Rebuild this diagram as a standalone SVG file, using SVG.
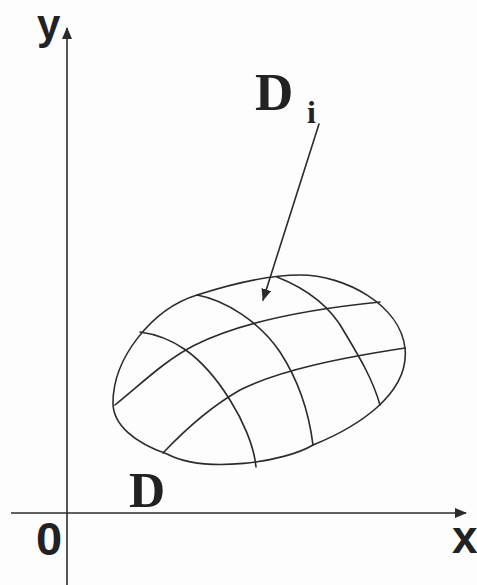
<svg xmlns="http://www.w3.org/2000/svg" width="477" height="585" viewBox="0 0 477 585">
  <style>
    .ln { fill: none; stroke: #2b2b2b; stroke-width: 1.6; stroke-linecap: round; stroke-linejoin: round; }
    .ax { fill: none; stroke: #2b2b2b; stroke-width: 1.6; }
    .sans { font-family: "Liberation Sans", Arial, sans-serif; font-weight: bold; fill: #222; }
    .serif { font-family: "Liberation Serif", "Times New Roman", serif; font-weight: bold; fill: #222; }
  </style>
  <defs>
    <marker id="ah" viewBox="0 0 12 10" refX="11" refY="5" markerWidth="12" markerHeight="10" markerUnits="userSpaceOnUse" orient="auto">
      <path d="M0,0 L12,5 L0,10 Z" fill="#2b2b2b"/>
    </marker>
  </defs>
  <rect width="477" height="585" fill="#fdfdfd"/>

  <g id="axes">
    <line class="ax" x1="67" y1="585" x2="67" y2="28" marker-end="url(#ah)"/>
    <line class="ax" x1="11" y1="513" x2="466" y2="513" marker-end="url(#ah)"/>
    <text class="sans" x="37" y="39" font-size="42">y</text>
    <text class="sans" x="452" y="553" font-size="46">x</text>
    <text class="sans" x="36" y="555" font-size="47">0</text>
  </g>

  <g id="region-D">
    <path class="ln" d="M113,403 C113,358 152,309 197,295 C228,285 268,275 300,275 C345,275 400,305 405,348 C410,395 355,428 313,445 C285,462 205,474 167,454 C135,443 113,425 113,403 Z"/>
    <path class="ln" d="M140,332 C170,336 200,352 230,400 C242,419 254,445 256,467"/>
    <path class="ln" d="M197,295 C225,300 260,322 280,352 C295,375 308,405 313,445"/>
    <path class="ln" d="M277,277 C305,288 330,305 345,333 C360,358 373,380 380,405"/>
    <path class="ln" d="M115,405 C140,385 165,360 195,345 C235,325 300,310 380,302"/>
    <path class="ln" d="M163,453 C180,435 205,410 240,390 C280,370 340,358 405,348"/>
    <text class="serif" x="129" y="507" font-size="50">D</text>
  </g>

  <g id="label-Di">
    <text class="serif" x="255" y="110" font-size="53">D</text>
    <text class="serif" x="307" y="123" font-size="32">i</text>
  </g>

  <g id="connectors">
    <line class="ln" x1="319" y1="124" x2="263" y2="300" marker-end="url(#ah)"/>
  </g>
</svg>
